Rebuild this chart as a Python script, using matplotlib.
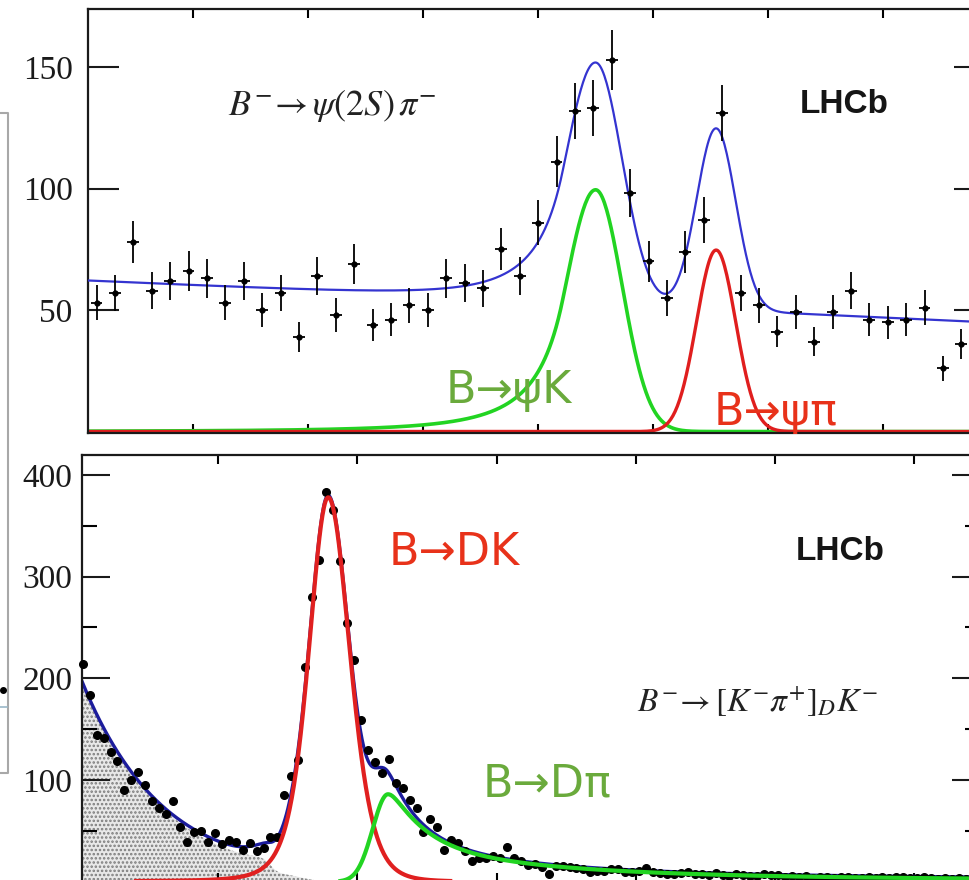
"""
plot.py
Two LHCb mass fits: B- -> psi(2S) pi- (top) and B- -> [K- pi+]_D K- (bottom).
Binned data with the fitted signal / mis-ID / background shapes on top.
"""

import numpy as np
import matplotlib.pyplot as plt
from matplotlib.lines import Line2D

# -------------------- Top panel: B- -> psi(2S) pi- --------------------
psi_bin_lo = 5058.0      # centre of first bin (MeV)
psi_bin_w = 8.0
psi_counts = [53, 57, 78, 58, 62, 66, 63, 53, 62, 50,
              57, 39, 64, 48, 69, 44, 46, 52, 50, 63,
              61, 59, 75, 64, 86, 111, 132, 133, 153, 98,
              70, 55, 74, 87, 131, 57, 52, 41, 49, 37,
              49, 58, 46, 45, 46, 51, 26, 36]

# fit shapes
psi_bkg_ends = [62.0, 45.0]      # linear background at left / right edge
psiK_peak = [5275.0, 99.5]       # mis-ID B->psi K: position, height
psiK_sigma = [13.0, 11.5]        # left / right width
psiK_tail = [1.1, 3.0]           # Crystal Ball alpha, n
psipi_peak = [5327.4, 74.7]      # B->psi pi signal
psipi_sigma = 8.5

# -------------------- Bottom panel: B- -> [K- pi+]_D K- --------------------
dk_bin_lo = 5102.5
dk_bin_w = 5.0
dk_counts = [214, 184, 144, 141, 128, 119, 90, 100, 108, 95,
             79, 72, 67, 79, 54, 39, 49, 50, 39, 48,
             37, 41, 39, 31, 38, 30, 33, 44, 44, 85,
             104, 120, 211, 280, 316, 383, 366, 315, 254, 218,
             159, 130, 118, 107, 121, 97, 92, 80, 72, 49,
             62, 54, 31, 41, 38, 30, 20, 23, 23, 25,
             23, 34, 23, 20, 16, 17, 14, 8, 15, 15,
             14, 13, 12, 10, 11, 11, 12, 12, 10, 10,
             11, 13, 10, 9, 8, 8, 9, 10, 8, 8,
             7, 9, 7, 6, 8, 7, 6, 6, 8, 7,
             7, 5, 6, 5, 6, 4, 5, 5, 4, 5,
             5, 4, 4, 5, 4, 5, 4, 5, 5, 4,
             4, 5, 4, 3, 4, 3, 4, 3]

dk_peak = [5279.0, 378.0]          # B->DK signal: position, height
dk_sigma = [13.3, 15.0]            # Cruijff left / right sigma
dk_alpha = [0.14, 0.10]            # Cruijff left / right alpha
dpi_peak = [5322.0, 86.0]          # mis-ID B->D pi
dpi_left_sigma = 11.0
dpi_tail_frac = [0.57, 0.36, 0.07]
dpi_tail_len = [24.0, 100.0, 500.0]
partreco = [195.0, 58.0, 5238.0]   # height at left edge, decay length, endpoint
partreco_hump = [7.0, 5245.0, 14.0]
comb_level = 1.5


# -------------------- Shapes --------------------
def crystal_ball(x, mu, amp, sl, sr, alpha, n):
    t = (x - mu) / np.where(x < mu, sl, sr)
    a = (n / alpha) ** n * np.exp(-0.5 * alpha ** 2)
    b = n / alpha - alpha
    tail = a * (b - np.minimum(t, -alpha)) ** (-n)
    return amp * np.where(t < -alpha, tail, np.exp(-0.5 * t ** 2))


def cruijff(x, mu, amp, s, a):
    d = x - mu
    s = np.where(d < 0, s[0], s[1])
    a = np.where(d < 0, a[0], a[1])
    return amp * np.exp(-d ** 2 / (2 * s ** 2 + a * d ** 2))


def dpi_shape(x):
    d = x - dpi_peak[0]
    u = np.sqrt(d ** 2 + 36.0) - 6.0
    right = sum(f * np.exp(-u / l) for f, l in zip(dpi_tail_frac, dpi_tail_len))
    left = np.exp(-0.5 * (d / dpi_left_sigma) ** 2)
    return dpi_peak[1] * np.where(d < 0, left, right)


def partreco_shape(x):
    amp, tau, end = partreco
    edge = 1.0 / (1.0 + np.exp((x - end) / 3.0))
    h, c, s = partreco_hump
    return amp * np.exp(-(x - 5102.0) / tau) * edge + h * np.exp(-0.5 * ((x - c) / s) ** 2)


# -------------------- Figure --------------------
plt.rcParams['font.family'] = ['Liberation Serif', 'DejaVu Serif']
plt.rcParams['mathtext.fontset'] = 'stix'
plt.rcParams['hatch.linewidth'] = 1.2

W, H = 969, 880
fig = plt.figure(figsize=(W / 100, H / 100), dpi=100)
ax1 = fig.add_axes([88 / W, 1 - 433 / H, 897 / W, 424 / H])
ax2 = fig.add_axes([82 / W, 1 - 881.7 / H, 898 / W, 426.7 / H])

label_font = ['DejaVu Sans']
green_txt = '#6aaa3c'
red_txt = '#e8321a'

# ---- top ----
x1 = psi_bin_lo + psi_bin_w * np.arange(len(psi_counts))
n1 = np.array(psi_counts, dtype=float)
xlim1 = (5054.3, 5444.3)
xs1 = np.linspace(*xlim1, 800)
bkg1 = np.interp(xs1, xlim1, psi_bkg_ends)
green1 = crystal_ball(xs1, psiK_peak[0], psiK_peak[1], psiK_sigma[0], psiK_sigma[1], *psiK_tail)
red1 = psipi_peak[1] * np.exp(-0.5 * ((xs1 - psipi_peak[0]) / psipi_sigma) ** 2)

ax1.plot(xs1, green1, color='#22d422', lw=2.6, zorder=2)
ax1.plot(xs1, red1, color='#e01e1e', lw=2.4, zorder=2)
ax1.plot(xs1, bkg1 + green1 + red1, color='#3434d0', lw=1.6, zorder=3)
ax1.errorbar(x1, n1, yerr=np.sqrt(n1), xerr=2.6, fmt='o', ms=3.5, color='black',
             elinewidth=1.3, capsize=0, zorder=4)

ax1.set_xlim(*xlim1)
ax1.set_ylim(-0.6, 173.9)
ax1.set_xticks(np.arange(5100, 5401, 50))
ax1.set_yticks([50, 100, 150])
ax1.tick_params(axis='y', direction='in', length=22, width=1.5, left=True, right=True,
                labelsize=24, pad=11, colors='#1a1a1a')
ax1.tick_params(axis='x', direction='in', length=6.5, width=1.5, top=True, bottom=True,
                labelbottom=False)

ax1.text(0.156, 0.75, r'$B^{-}\!\rightarrow\psi(2S)\,\pi^{-}$', transform=ax1.transAxes,
         fontsize=26, ha='left', va='baseline', color='#222222')
ax1.text(0.793, 0.755, 'LHCb', transform=ax1.transAxes, fontsize=24, fontweight='bold',
         family=['Liberation Sans', 'DejaVu Sans'], ha='left', va='baseline', color='#151515')
ax1.text(0.399, 0.071, 'B→ψK', transform=ax1.transAxes, fontsize=32, family=label_font,
         ha='left', va='baseline', color=green_txt)
ax1.text(0.698, 0.019, 'B→ψπ', transform=ax1.transAxes, fontsize=32, family=label_font,
         ha='left', va='baseline', color=red_txt)

# ---- bottom ----
x2 = dk_bin_lo + dk_bin_w * np.arange(len(dk_counts))
n2 = np.array(dk_counts, dtype=float)
xlim2 = (5102.0, 5747.6)
xs2 = np.linspace(*xlim2, 1200)
shaded = partreco_shape(xs2)
red2 = cruijff(xs2, dk_peak[0], dk_peak[1], dk_sigma, dk_alpha)
green2 = dpi_shape(xs2)
total2 = shaded + comb_level + red2 + green2

ax2.fill_between(xs2, 0, shaded, facecolor='#e8e8e8', edgecolor='#7c7c7c', hatch='....',
                 linewidth=0, zorder=1)
ax2.plot(xs2, total2, color='#1c1c9c', lw=2.4, zorder=2)
ax2.plot(x2, n2, 'o', ms=5.5, color='black', zorder=3, clip_on=False)
ax2.plot(xs2, red2, color='#e02020', lw=3.0, zorder=4)
ax2.plot(xs2, green2, color='#22d422', lw=3.0, zorder=4)

ax2.set_xlim(*xlim2)
ax2.set_ylim(0, 419.6)
ax2.set_xticks(np.arange(5200, 5701, 100))
ax2.set_yticks([100, 200, 300, 400])
ax2.set_yticks([50, 150, 250, 350], minor=True)
ax2.tick_params(axis='y', which='major', direction='in', length=20, width=1.5, left=True,
                right=True, labelsize=24, pad=7, colors='#1a1a1a')
ax2.tick_params(axis='y', which='minor', direction='in', length=11, width=1.5, left=True,
                right=True)
ax2.tick_params(axis='x', direction='in', length=6.5, width=1.5, top=True, bottom=True,
                labelbottom=False)

ax2.text(0.342, 0.742, 'B→DK', transform=ax2.transAxes, fontsize=32, family=label_font,
         ha='left', va='baseline', color=red_txt)
ax2.text(0.795, 0.754, 'LHCb', transform=ax2.transAxes, fontsize=24, fontweight='bold',
         family=['Liberation Sans', 'DejaVu Sans'], ha='left', va='baseline', color='#151515')
ax2.text(0.618, 0.398, r'$B^{-}\!\rightarrow[K^{-}\pi^{+}]_{D}K^{-}$', transform=ax2.transAxes,
         fontsize=24, ha='left', va='baseline', color='#222222')
ax2.text(0.4465, 0.199, 'B→Dπ', transform=ax2.transAxes, fontsize=32, family=label_font,
         ha='left', va='baseline', color=green_txt)

for ax in (ax1, ax2):
    for s in ax.spines.values():
        s.set_linewidth(1.6)
        s.set_color('#1a1a1a')

# sliver of a neighbouring frame at the left edge
def px(x, y):
    return x / W, 1 - y / H

fx, fy = zip(px(0, 113), px(8, 113), px(8, 773), px(0, 773))
fig.add_artist(Line2D(fx, fy, color='#a8a8a8', lw=1.5, transform=fig.transFigure))
fx, fy = zip(px(0, 707), px(7, 707))
fig.add_artist(Line2D(fx, fy, color='#9ab8c8', lw=1.2, transform=fig.transFigure))
fx, fy = px(3, 690)
fig.add_artist(Line2D([fx], [fy], marker='o', ms=4, color='black', transform=fig.transFigure))

fig.savefig('out.png', dpi=100)
